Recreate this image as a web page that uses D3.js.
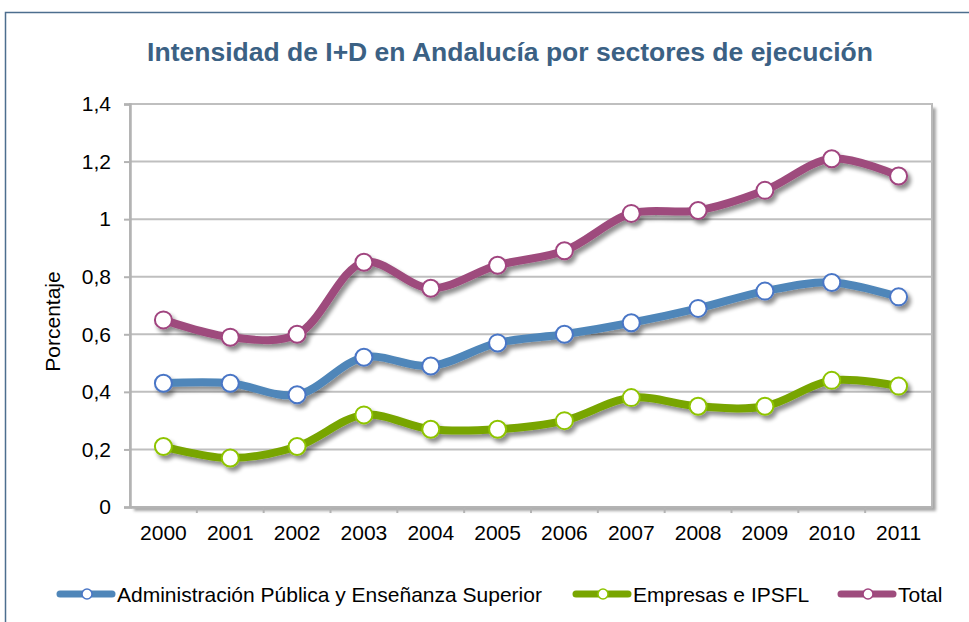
<!DOCTYPE html>
<html>
<head>
<meta charset="utf-8">
<script src="https://cdn.jsdelivr.net/npm/d3@7"></script>
<style>
  body { margin: 0; background: #fff; }
  text { font-family: "Liberation Sans", Arial, sans-serif; }
</style>
</head>
<body>
<div id="chart"></div>
<script>
const years = ["2000", "2001", "2002", "2003", "2004", "2005", "2006", "2007", "2008", "2009", "2010", "2011"];
const adminValues = [0.43, 0.43, 0.39, 0.52, 0.49, 0.57, 0.60, 0.64, 0.69, 0.75, 0.78, 0.73];
const empresasValues = [0.21, 0.17, 0.21, 0.32, 0.27, 0.27, 0.30, 0.38, 0.35, 0.35, 0.44, 0.42];
const totalValues = [0.65, 0.59, 0.60, 0.85, 0.76, 0.84, 0.89, 1.02, 1.03, 1.10, 1.21, 1.15];
const yTicks = [0, 0.2, 0.4, 0.6, 0.8, 1, 1.2, 1.4];
const seriesNames = ["Administración Pública y Enseñanza Superior", "Empresas e IPSFL", "Total"];

const width = 969;
const height = 622;
const margin = { top: 104, right: 37, bottom: 115, left: 130 };

const series = [
  { name: seriesNames[0], values: adminValues, color: "#4f86b9", stroke: "#4a76c6" },
  { name: seriesNames[1], values: empresasValues, color: "#78a500", stroke: "#8ec400" },
  { name: seriesNames[2], values: totalValues, color: "#9e4c7d", stroke: "#a0447f" },
];

const svg = d3.select("#chart")
  .append("svg")
  .attr("width", width)
  .attr("height", height);

const defs = svg.append("defs");
const shadow = defs.append("filter")
  .attr("id", "shadow")
  .attr("x", "-10%").attr("y", "-10%")
  .attr("width", "130%").attr("height", "140%");
shadow.append("feGaussianBlur").attr("in", "SourceAlpha").attr("stdDeviation", 2.2);
shadow.append("feOffset").attr("dx", 3).attr("dy", 3.5).attr("result", "off");
shadow.append("feComponentTransfer").append("feFuncA").attr("type", "linear").attr("slope", 0.45);
const merge = shadow.append("feMerge");
merge.append("feMergeNode");
merge.append("feMergeNode").attr("in", "SourceGraphic");

// outer frame
svg.append("rect")
  .attr("x", 5.5).attr("y", 12.5)
  .attr("width", 1000).attr("height", 700)
  .attr("fill", "none")
  .attr("stroke", "#4d6e8e")
  .attr("stroke-width", 1.5);

svg.append("text")
  .attr("x", 510)
  .attr("y", 61)
  .attr("text-anchor", "middle")
  .attr("font-size", 26.5)
  .attr("font-weight", "bold")
  .attr("fill", "#3b6184")
  .text("Intensidad de I+D en Andalucía por sectores de ejecución");

const x = d3.scaleBand()
  .domain(years)
  .range([margin.left, width - margin.right]);

const y = d3.scaleLinear()
  .domain([0, 1.4])
  .range([height - margin.bottom, margin.top]);

// plot area with shadow frame
svg.append("rect")
  .attr("x", margin.left + 4).attr("y", margin.top + 4)
  .attr("width", width - margin.left - margin.right)
  .attr("height", height - margin.top - margin.bottom)
  .attr("fill", "#a6a6a6")
  .style("filter", "blur(1.5px)");
svg.append("rect")
  .attr("x", margin.left).attr("y", margin.top)
  .attr("width", width - margin.left - margin.right)
  .attr("height", height - margin.top - margin.bottom)
  .attr("fill", "#fff")
  .attr("stroke", "#b9b9b9")
  .attr("stroke-width", 2);

// gridlines
svg.append("g")
  .selectAll("line")
  .data(yTicks.slice(1))
  .enter()
  .append("line")
  .attr("x1", margin.left)
  .attr("x2", width - margin.right)
  .attr("y1", (d) => y(d))
  .attr("y2", (d) => y(d))
  .attr("stroke", "#bfbfbf")
  .attr("stroke-width", 2);

const yAxis = svg.append("g")
  .attr("transform", `translate(${margin.left},0)`)
  .call(d3.axisLeft(y).tickValues(yTicks).tickSize(6).tickPadding(13)
    .tickFormat((d) => d3.format("~g")(d).replace(".", ",")));
yAxis.select(".domain").attr("stroke", "#b3b3b3").attr("stroke-width", 2.5);
yAxis.selectAll(".tick line").attr("stroke", "#b3b3b3").attr("stroke-width", 2);
yAxis.selectAll("text").attr("font-size", 21).attr("fill", "#000")
  .style("font-family", "'Liberation Sans', Arial, sans-serif");

const xAxis = svg.append("g")
  .attr("transform", `translate(0,${height - margin.bottom})`)
  .call(d3.axisBottom(x).tickSize(0).tickPadding(18));
xAxis.select(".domain").attr("stroke", "#b3b3b3").attr("stroke-width", 2.5);
xAxis.selectAll("text").attr("font-size", 21).attr("fill", "#000")
  .style("font-family", "'Liberation Sans', Arial, sans-serif");
// tick marks between categories
svg.append("g")
  .selectAll("line")
  .data(years.slice(1))
  .enter()
  .append("line")
  .attr("x1", (d) => x(d))
  .attr("x2", (d) => x(d))
  .attr("y1", height - margin.bottom)
  .attr("y2", height - margin.bottom + 6)
  .attr("stroke", "#b3b3b3")
  .attr("stroke-width", 2);

svg.append("text")
  .attr("transform", `translate(60,${(margin.top + height - margin.bottom) / 2 + 16}) rotate(-90)`)
  .attr("text-anchor", "middle")
  .attr("font-size", 21)
  .text("Porcentaje");

const line = d3.line()
  .x((d, i) => x(years[i]) + x.bandwidth() / 2)
  .y((d) => y(d))
  .curve(d3.curveCatmullRom.alpha(0.5));

const seriesG = svg.append("g");
series.forEach((s) => {
  const g = seriesG.append("g").attr("filter", "url(#shadow)");
  g.append("path")
    .datum(s.values)
    .attr("d", line)
    .attr("fill", "none")
    .attr("stroke", s.color)
    .attr("stroke-width", 8)
    .attr("stroke-linecap", "round");
  g.selectAll("circle")
    .data(s.values)
    .enter()
    .append("circle")
    .attr("cx", (d, i) => x(years[i]) + x.bandwidth() / 2)
    .attr("cy", (d) => y(d))
    .attr("r", 8.5)
    .attr("fill", "#fff")
    .attr("stroke", s.stroke)
    .attr("stroke-width", 2);
});

// legend
const legendX = [57, 573, 838];
const legend = svg.append("g");
series.forEach((s, i) => {
  const g = legend.append("g").attr("transform", `translate(${legendX[i]},594)`);
  g.append("line")
    .attr("x1", 3).attr("x2", 55)
    .attr("stroke", s.color)
    .attr("stroke-width", 7)
    .attr("stroke-linecap", "round");
  g.append("circle")
    .attr("cx", 30).attr("r", 5)
    .attr("fill", "#fff")
    .attr("stroke", s.stroke)
    .attr("stroke-width", 1.5);
  g.append("text")
    .attr("x", 60)
    .attr("y", 7.5)
    .attr("font-size", 21)
    .text(s.name);
});
</script>
</body>
</html>
